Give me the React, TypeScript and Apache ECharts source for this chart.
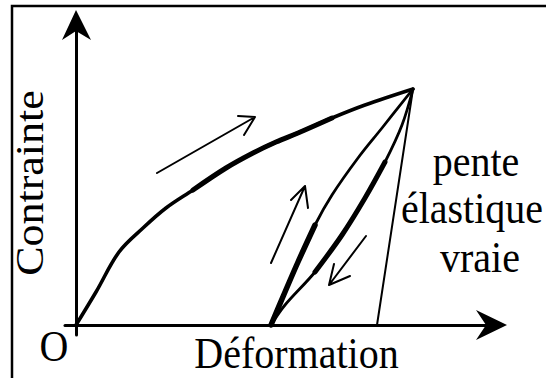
import React, { useEffect, useRef } from "react";
import * as echarts from "echarts";

// Schematic stress–strain diagram, arbitrary units (x: strain, y: stress)
const X_MIN = -11;
const X_MAX = 421;
const Y_MIN = -10;
const Y_MAX = 305;

const loadingCurve: number[][] = [
  [0, 0], [20, 33], [43, 73], [67, 97], [90, 117], [117, 135], [150, 157], [177, 172],
  [200, 183], [222, 192], [256, 207], [289, 220], [337, 236],
];
const reloadCurve: number[][] = [
  [195, 0], [209, 33], [222, 63], [239, 100], [256, 130], [282, 167], [306, 197], [337, 236],
];
const unloadCurve: number[][] = [
  [337, 236], [326, 200], [309, 163], [289, 127], [266, 90], [239, 53], [209, 20], [195, 0],
];
const elasticSlope: number[][] = [
  [301, 0], [337, 236],
];
// arrows: start, tip, barb, tip, barb
const arrowLoading: number[][] = [[81, 152], [179, 208], [162, 209], [179, 208], [168, 190]];
const arrowReload: number[][] = [[195, 62], [229, 139], [215, 125], [229, 139], [232, 117]];
const arrowUnload: number[][] = [[290, 89], [253, 40], [274, 49], [253, 40], [258, 61]];

const yAxisTitle = "Contrainte";
const xAxisTitle = "Déformation";
const originLabel = "O";
const slopeLabel = ["pente", "élastique", "vraie"];

const FONT = "Liberation Serif";

export default function App() {
  const ref = useRef<HTMLDivElement>(null);
  useEffect(() => {
    const chart = echarts.init(ref.current!, null, { renderer: "svg" });
    const line = (data: number[][], width: number, smooth: number | boolean) => ({
      type: "line",
      data,
      symbol: "none",
      smooth,
      silent: true,
      lineStyle: { color: "#000", width, cap: "round", join: "round" },
    });
    chart.setOption({
      animation: false,
      backgroundColor: "#fff",
      grid: { left: 65, right: 546 - 497, top: 20, bottom: 378 - 335, containLabel: false },
      xAxis: {
        type: "value", min: X_MIN, max: X_MAX,
        axisLine: { show: true, onZero: true, lineStyle: { color: "#000", width: 3 } },
        axisTick: { show: false }, axisLabel: { show: false }, splitLine: { show: false },
      },
      yAxis: {
        type: "value", min: Y_MIN, max: Y_MAX,
        axisLine: { show: true, onZero: true, lineStyle: { color: "#000", width: 3 } },
        axisTick: { show: false }, axisLabel: { show: false }, splitLine: { show: false },
      },
      series: [
        line(loadingCurve, 3.6, 0.35),
        line(loadingCurve.slice(5, 11), 5, 0.35),
        line(reloadCurve, 2.8, 0.35),
        line(reloadCurve.slice(0, 4), 5.5, 0.35),
        line(unloadCurve, 2.8, 0.35),
        line(unloadCurve.slice(2, 6), 5, 0.35),
        line(elasticSlope, 2, false),
        line(arrowLoading, 2, false),
        line(arrowReload, 2, false),
        line(arrowUnload, 2, false),
      ],
    });
    const [ox, oy] = chart.convertToPixel({ gridIndex: 0 }, [0, 0]) as number[];
    const [xe] = chart.convertToPixel({ gridIndex: 0 }, [X_MAX, 0]) as number[];
    const [, ye] = chart.convertToPixel({ gridIndex: 0 }, [0, Y_MAX]) as number[];
    const txt = (text: string, x: number, y: number, extra: any = {}) => ({
      type: "text",
      x,
      y,
      scaleY: 1.1,
      silent: true,
      ...extra,
      style: {
        text,
        fontSize: 40,
        fontFamily: FONT,
        fill: "#000",
        textAlign: "center",
        textVerticalAlign: "middle",
        align: "center",
        verticalAlign: "middle",
      },
    });
    chart.setOption({
      graphic: [
        {
          type: "rect", silent: true,
          shape: { x: 12, y: 6, width: 700, height: 500 },
          style: { fill: "none", stroke: "#000", lineWidth: 2.5 },
        },
        {
          type: "polygon", silent: true,
          shape: { points: [[ox, ye - 10], [ox + 15, ye + 20], [ox, ye + 11], [ox - 14, ye + 20]] },
          style: { fill: "#000" },
        },
        {
          type: "polygon", silent: true,
          shape: { points: [[xe + 10, oy], [xe - 21, oy + 15], [xe - 11, oy], [xe - 21, oy - 15]] },
          style: { fill: "#000" },
        },
        txt(yAxisTitle, 29.5, 183, { rotation: Math.PI / 2, scaleX: 1.1, scaleY: 1 }),
        txt(xAxisTitle, 296.5, 353),
        txt(originLabel, 54, 346),
        txt(slopeLabel[0], 476, 161),
        txt(slopeLabel[1], 472, 208),
        txt(slopeLabel[2], 480, 257),
      ],
    });
    return () => chart.dispose();
  }, []);
  return (
    <div
      ref={ref}
      style={{ position: "absolute", left: 0, top: 0, width: 546, height: 378, background: "#fff" }}
    />
  );
}
